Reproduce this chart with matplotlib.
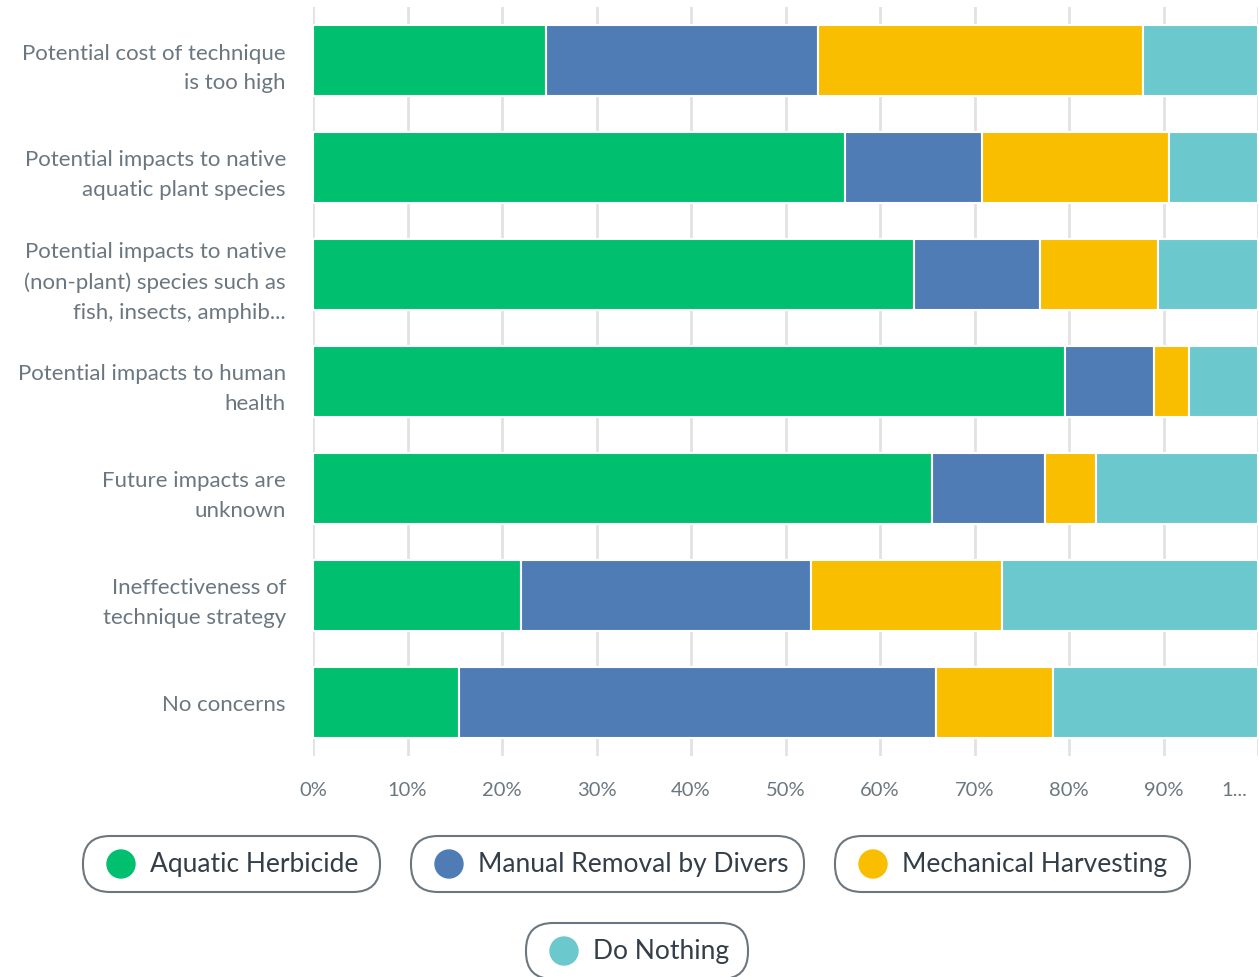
import matplotlib
matplotlib.use("Agg")
import matplotlib.pyplot as plt
from matplotlib.patches import FancyBboxPatch, Circle
from matplotlib.transforms import ScaledTranslation
import numpy as np

# ---------------------------
# Data (percent of respondents)
# ---------------------------
categories = [
    "Potential cost of technique\nis too high",
    "Potential impacts to native\naquatic plant species",
    "Potential impacts to native\n(non-plant) species such as\nfish, insects, amphib...",
    "Potential impacts to human\nhealth",
    "Future impacts are\nunknown",
    "Ineffectiveness of\ntechnique strategy",
    "No concerns",
]
series_names = ["Aquatic Herbicide", "Manual Removal by Divers",
                "Mechanical Harvesting", "Do Nothing"]
herbicide = [24.7, 56.3, 63.6, 79.6, 65.5, 22.0, 15.4]
divers = [28.7, 14.5, 13.3, 9.4, 12.0, 30.7, 50.5]
harvesting = [34.4, 19.8, 12.5, 3.7, 5.4, 20.2, 12.4]
do_nothing = [12.2, 9.4, 10.6, 7.3, 17.1, 27.1, 21.7]
tick_vals = [0, 10, 20, 30, 40, 50, 60, 70, 80, 90, 100]
tick_labels = ["0%", "10%", "20%", "30%", "40%", "50%", "60%", "70%", "80%", "90%", "1..."]

colors = ["#00bf6f", "#507cb6", "#f9be00", "#6bc8cd"]

plt.rcParams["font.family"] = ["Lato", "DejaVu Sans"]

W, H = 1259, 978
fig = plt.figure(figsize=(W / 100, H / 100), dpi=100)
ax = fig.add_axes([313 / W, 1 - 757 / H, (1258 - 313) / W, (757 - 8) / H])

y = np.arange(len(categories))
left = np.zeros(len(categories))
for vals, c in zip([herbicide, divers, harvesting, do_nothing], colors):
    ax.barh(y, vals, left=left, height=0.655, color=c, edgecolor="white",
            linewidth=1.5, zorder=3)
    left += np.array(vals)

ax.set_xlim(0, 100)
ax.set_ylim(len(categories) - 0.5, -0.5)
ax.set_xticks(tick_vals)
ax.set_xticklabels(tick_labels)
ax.set_yticks(y)
ax.set_yticklabels(categories, linespacing=1.62)
ax.tick_params(axis="both", length=0, colors="#6b7780")
ax.tick_params(axis="x", pad=18, labelsize=14.5)
ax.tick_params(axis="y", pad=19.5, labelsize=16)
ax.xaxis.grid(True, color="#e2e2e2", linewidth=2, zorder=0)
ax.set_axisbelow(True)
for s in ax.spines.values():
    s.set_visible(False)

# the last tick label is truncated and pulled inside the figure
last = ax.get_xticklabels()[-1]
last.set_transform(last.get_transform() + ScaledTranslation(-24 / 100, 0, fig.dpi_scale_trans))

# ---------------------------
# Pill-shaped legend items
# ---------------------------
pills = [  # (x0, x1, ytop) in pixels
    (83, 380, 837),
    (411, 804, 837),
    (835, 1190, 837),
    (526, 748, 924),
]
for (x0, x1, yt), name, c in zip(pills, series_names, colors):
    h = 56
    yb = H - yt - h
    box = FancyBboxPatch((x0, yb), x1 - x0, h,
                         boxstyle="round,pad=0,rounding_size=27",
                         transform=None, facecolor="white",
                         edgecolor="#6b7780", linewidth=1.5)
    fig.patches.append(box)
    circ = Circle((x0 + 38, yb + h / 2), 14, transform=None, color=c)
    fig.patches.append(circ)
    fig.text((x0 + 67) / W, (yb + h / 2) / H, name, ha="left", va="center",
             fontsize=19, color="#333e48")

fig.savefig("out.png", dpi=100)
